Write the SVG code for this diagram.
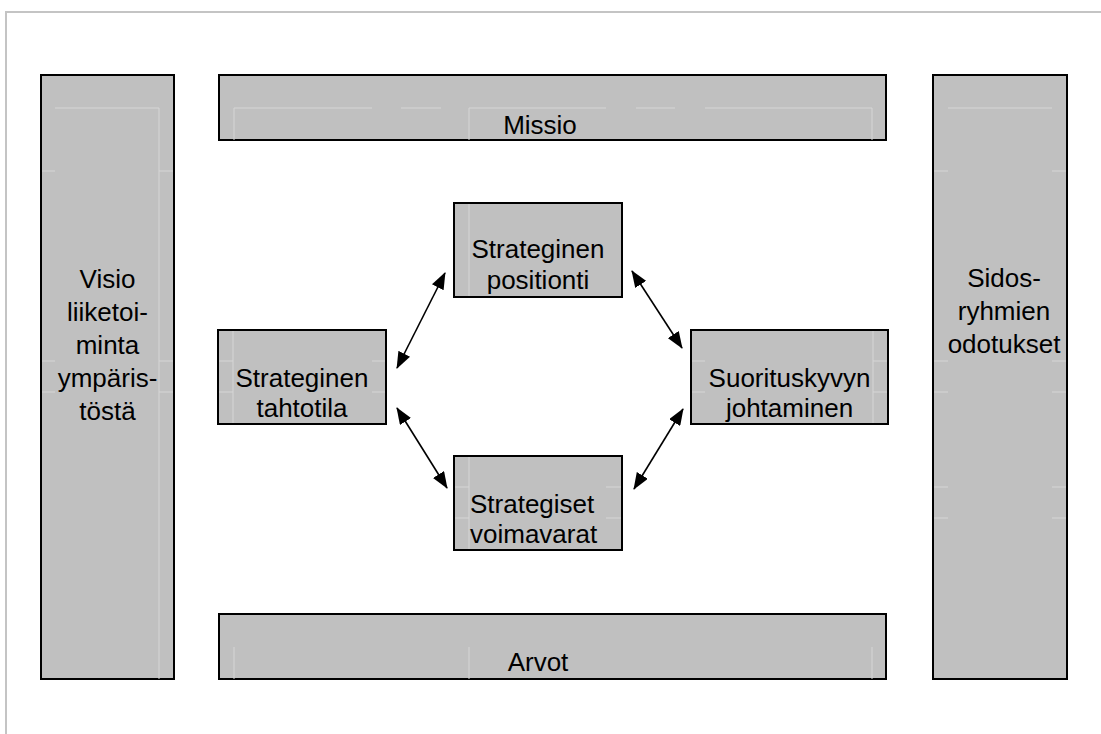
<svg xmlns="http://www.w3.org/2000/svg" width="1101" height="734" viewBox="0 0 1101 734">
<defs>
<style>
.box{fill:#c0c0c0;stroke:#000;stroke-width:2}
.grid{stroke:#d6d6d6;stroke-width:1;fill:none}
.t{font-family:"Liberation Sans",Arial,sans-serif;font-size:26px;fill:#000;text-anchor:middle}
.conn{stroke:#000;stroke-width:1.6;fill:none;marker-start:url(#ah);marker-end:url(#ah)}
</style>
<marker id="ah" viewBox="0 0 17 13" refX="16" refY="6.5" markerWidth="17" markerHeight="13" markerUnits="userSpaceOnUse" orient="auto-start-reverse">
<path d="M0,0 L17,6.5 L0,13 z" fill="#000"/>
</marker>
</defs>
<rect width="1101" height="734" fill="#fff"/>
<path d="M6,734 V12 H1101" stroke="#c4c4c4" stroke-width="2" fill="none"/>

<g id="visio">
<rect class="box" x="41" y="75" width="133" height="604"/>
<path class="grid" d="M55,108 H159 V679 M42,171 H55 M159,171 H173 M42,361 H55 M159,361 H173 M42,392 H55 M159,392 H173"/>
<text class="t" x="107.5" y="288">Visio</text>
<text class="t" x="107.5" y="321">liiketoi-</text>
<text class="t" x="107.5" y="354">minta</text>
<text class="t" x="107.5" y="387">ympäris-</text>
<text class="t" x="107.5" y="420">töstä</text>
</g>

<g id="missio">
<rect class="box" x="219" y="75" width="667" height="65"/>
<path class="grid" d="M234,140 V108 H372 M401,108 H441 M469,140 V108 H606 M636,108 H675 M705,108 H872 V140"/>
<text class="t" x="540" y="134">Missio</text>
</g>

<g id="arvot">
<rect class="box" x="219" y="614" width="667" height="65"/>
<path class="grid" d="M234,647 V679 M469,647 V679 M872,647 V679"/>
<text class="t" x="538" y="671">Arvot</text>
</g>

<g id="sidos">
<rect class="box" x="933" y="75" width="134" height="604"/>
<path class="grid" d="M948,108 H1052 M934,171 H948 M1052,171 H1066 M934,361 H948 M1052,361 H1066 M934,392 H948 M1052,392 H1066 M934,487 H948 M1052,487 H1066 M934,518 H948 M1052,518 H1066"/>
<text class="t" x="1004" y="287">Sidos-</text>
<text class="t" x="1004" y="320">ryhmien</text>
<text class="t" x="1004" y="353">odotukset</text>
</g>

<g id="positionti">
<rect class="box" x="454" y="203" width="168" height="94"/>
<path class="grid" d="M469,204 V296"/>
<text class="t" x="538" y="258">Strateginen</text>
<text class="t" x="538" y="289">positionti</text>
</g>

<g id="tahtotila">
<rect class="box" x="218" y="330" width="168" height="94"/>
<path class="grid" d="M233,331 V423 M219,361 H233 M372,361 H385 M219,392 H233 M372,392 H385"/>
<text class="t" x="302" y="387">Strateginen</text>
<text class="t" x="302" y="417">tahtotila</text>
</g>

<g id="suorituskyky">
<rect class="box" x="691" y="330" width="197" height="94"/>
<path class="grid" d="M873,331 V423 M692,361 H705 M873,361 H887 M692,392 H705 M873,392 H887"/>
<text class="t" x="789.5" y="387">Suorituskyvyn</text>
<text class="t" x="789.5" y="417">johtaminen</text>
</g>

<g id="voimavarat">
<rect class="box" x="454" y="456" width="168" height="94"/>
<path class="grid" d="M469,457 V549 M455,487 H469 M606,487 H621 M455,518 H469 M606,518 H621"/>
<text class="t" x="470" y="513" style="text-anchor:start">Strategiset</text>
<text class="t" x="470" y="543" style="text-anchor:start">voimavarat</text>
</g>

<g id="connectors">
<line class="conn" x1="445" y1="273" x2="397" y2="368"/>
<line class="conn" x1="632" y1="271" x2="682" y2="348"/>
<line class="conn" x1="397" y1="408" x2="447" y2="488"/>
<line class="conn" x1="683" y1="409" x2="634" y2="489"/>
</g>
</svg>
